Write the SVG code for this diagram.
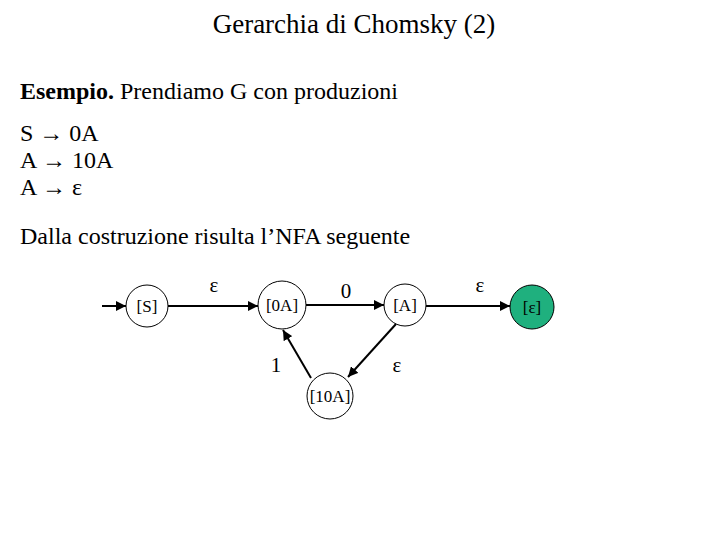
<svg xmlns="http://www.w3.org/2000/svg" width="720" height="540" viewBox="0 0 720 540">
<style>
text{font-family:"Liberation Serif","Times New Roman",serif;fill:#000}
.t{font-size:24px}
.n circle{fill:#fff;stroke:#000;stroke-width:1}
.n text{font-size:17px;text-anchor:middle}
.l{font-size:21px;text-anchor:middle}
.c line{stroke:#000;stroke-width:2;marker-end:url(#ah)}
</style>
<defs><marker id="ah" viewBox="0 0 10 10" refX="10" refY="5" markerWidth="5" markerHeight="5" orient="auto"><path d="M0,0L10,5L0,10z" fill="#000"/></marker></defs>
<rect width="720" height="540" fill="#fff"/>
<text x="354" y="33" font-size="27" text-anchor="middle">Gerarchia di Chomsky (2)</text>
<text class="t" x="20" y="99"><tspan font-weight="bold">Esempio.</tspan>  Prendiamo G con produzioni</text>
<text class="t" x="20" y="141">S → 0A</text>
<text class="t" x="20" y="168">A → 10A</text>
<text class="t" x="20" y="195">A → ε</text>
<text class="t" x="20" y="244">Dalla costruzione risulta l’NFA seguente</text>
<g class="c">
<line x1="102" y1="306" x2="126" y2="306"/>
<line x1="168" y1="306" x2="258" y2="306"/>
<line x1="306" y1="305" x2="384" y2="305"/>
<line x1="426" y1="306" x2="510" y2="306"/>
<line x1="396" y1="324" x2="348" y2="377"/>
<line x1="311" y1="378" x2="283" y2="330"/>
</g>
<text class="l" x="214" y="292">ε</text>
<text class="l" x="346" y="298">0</text>
<text class="l" x="480" y="292">ε</text>
<text class="l" x="276" y="372">1</text>
<text class="l" x="397" y="372">ε</text>
<g id="nS" class="n"><circle cx="147" cy="306" r="21"/><text x="147" y="312">[S]</text></g>
<g id="n0A" class="n"><circle cx="282" cy="305" r="24"/><text x="282" y="311">[0A]</text></g>
<g id="nA" class="n"><circle cx="405" cy="305" r="21"/><text x="405" y="311">[A]</text></g>
<g id="nE" class="n"><circle cx="532" cy="307" r="22" style="fill:#1fb07e"/><text x="532" y="313">[ε]</text></g>
<g id="n10A" class="n"><circle cx="330" cy="396" r="23"/><text x="330" y="402">[10A]</text></g>
</svg>
